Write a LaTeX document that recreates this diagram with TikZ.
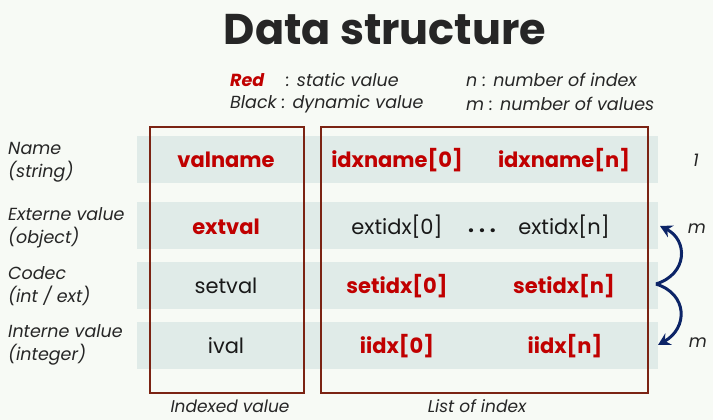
\documentclass[tikz,border=0pt]{standalone}
\usepackage{fontspec}
\setmainfont{Poppins}
\usepackage{tikz}
\usetikzlibrary{arrows.meta}

\definecolor{bgcol}{HTML}{F7FAF5}
\definecolor{bandcol}{HTML}{E0EBE8}
\definecolor{boxcol}{HTML}{7B2313}
\definecolor{redval}{HTML}{C00000}
\definecolor{navy}{HTML}{0C2467}

\begin{document}
\begin{tikzpicture}[x=1pt, y=-1pt,
    band/.style={rectangle, fill=bandcol, minimum width=521pt, minimum height=47pt, inner sep=0pt},
    frame/.style={rectangle, draw=boxcol, line width=1.8pt, minimum height=266pt, inner sep=0pt},
    stat/.style={inner sep=0pt, font=\fontsize{21}{24}\selectfont\bfseries, text=redval},
    dyn/.style={inner sep=0pt, font=\fontsize{21}{24}\selectfont, text=black!90},
    lbl/.style={inner sep=0pt, font=\fontsize{17.5}{23}\selectfont\itshape, text=black!85},
    arr/.style={-{Stealth[length=12pt, width=13pt]}, line width=3pt, draw=navy}
]
\fill[bgcol] (0,0) rectangle (713,420);
\useasboundingbox (0,0) rectangle (713,420);

\node[font=\fontsize{43}{48}\selectfont\bfseries, text=black!85] (title) at (385,30) {Data structure};

% legend
\node[lbl, anchor=west] (red) at (230,80) {\textbf{\textcolor{redval}{Red}}};
\node[lbl, anchor=west] (static) at (286,80) {: static value};
\node[lbl, anchor=west] (black) at (230,104) {Black : dynamic value};
\node[lbl, anchor=west] (nidx) at (466,80) {n : number of index};
\node[lbl, anchor=west] (mval) at (466,104) {m : number of values};

% rows
\foreach \y/\n in {159.5/name, 225.5/ext, 285/codec, 345/int}
    \node[band] (band\n) at (397.5,\y) {};

\node[frame, minimum width=154pt] (indexed) at (227,260) {};
\node[frame, minimum width=327pt] (list) at (484.5,260) {};
\node[lbl, font=\fontsize{17}{20}\selectfont\itshape] (indexedlbl) at (230,406) {Indexed value};
\node[lbl, font=\fontsize{17}{20}\selectfont\itshape] (listlbl) at (477,406) {List of index};

\node[lbl, align=left, anchor=west] (lname) at (8,162.5) {Name\\(string)};
\node[lbl, align=left, anchor=west] (lext) at (8,227.5) {Externe value\\(object)};
\node[lbl, align=left, anchor=west] (lcodec) at (8,286.5) {Codec\\(int / ext)};
\node[lbl, align=left, anchor=west] (lint) at (8,345) {Interne value\\(integer)};

\node[stat] (valname) at (226,160) {valname};
\node[stat] (idxname0) at (397,160) {idxname[0]};
\node[stat] (idxnamen) at (564,160) {idxname[n]};

\node[stat] (extval) at (226,227) {extval};
\node[dyn] (extidx0) at (397,227) {extidx[0]};
\node[dyn, font=\fontsize{21}{24}\selectfont\bfseries] (dots) at (482,231) {.\hspace{5pt}.\hspace{5pt}.};
\node[dyn] (extidxn) at (564,227) {extidx[n]};

\node[dyn] (setval) at (226,286) {setval};
\node[stat] (setidx0) at (397,286) {setidx[0]};
\node[stat] (setidxn) at (564,286) {setidx[n]};

\node[dyn] (ival) at (226,346) {ival};
\node[stat] (iidx0) at (397,346) {iidx[0]};
\node[stat] (iidxn) at (565,346) {iidx[n]};

\node[lbl] (one) at (696,160) {1};
\node[lbl] (mup) at (697,229) {m};
\node[lbl] (mdown) at (698,343) {m};

\coordinate (brace) at (656,284);
\coordinate (uptip) at (660,226);
\coordinate (downtip) at (658,345);
\draw[arr] (brace) .. controls (688,274) and (688,240) .. (uptip);
\draw[arr] (brace) .. controls (688,294) and (688,328) .. (downtip);
\end{tikzpicture}
\end{document}
